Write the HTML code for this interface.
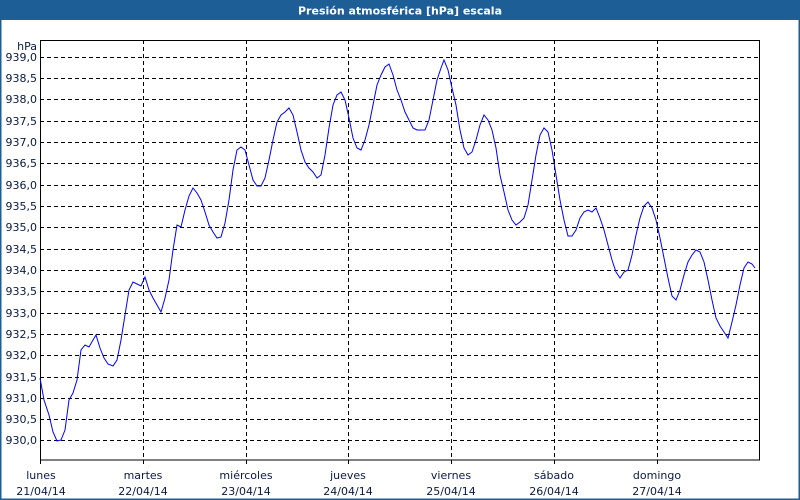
<!DOCTYPE html>
<html><head><meta charset="utf-8"><style>
html,body{margin:0;padding:0;background:#fff}
svg{display:block}
text{font-family:Tahoma,"DejaVu Sans","Liberation Sans",sans-serif;font-size:11px;fill:#0a1a40}
</style></head><body>
<svg width="800" height="500" viewBox="0 0 800 500" xmlns="http://www.w3.org/2000/svg">
<rect x="0" y="0" width="800" height="500" fill="#fff"/>
<rect x="0.5" y="0.5" width="799" height="499" fill="none" stroke="#1e5e96" stroke-width="2"/>
<rect x="0" y="0" width="800" height="20" fill="#1e5e96"/>
<text x="400" y="14.5" text-anchor="middle" style="font-weight:bold;fill:#fff;font-size:11px">Presión atmosférica [hPa] escala</text>
<g stroke="#000" stroke-width="1" stroke-dasharray="4,3" shape-rendering="crispEdges">
<line x1="40" x2="760" y1="57.5" y2="57.5"/><line x1="40" x2="760" y1="78.5" y2="78.5"/><line x1="40" x2="760" y1="99.5" y2="99.5"/><line x1="40" x2="760" y1="121.5" y2="121.5"/><line x1="40" x2="760" y1="142.5" y2="142.5"/><line x1="40" x2="760" y1="163.5" y2="163.5"/><line x1="40" x2="760" y1="185.5" y2="185.5"/><line x1="40" x2="760" y1="206.5" y2="206.5"/><line x1="40" x2="760" y1="227.5" y2="227.5"/><line x1="40" x2="760" y1="249.5" y2="249.5"/><line x1="40" x2="760" y1="270.5" y2="270.5"/><line x1="40" x2="760" y1="291.5" y2="291.5"/><line x1="40" x2="760" y1="313.5" y2="313.5"/><line x1="40" x2="760" y1="334.5" y2="334.5"/><line x1="40" x2="760" y1="355.5" y2="355.5"/><line x1="40" x2="760" y1="377.5" y2="377.5"/><line x1="40" x2="760" y1="398.5" y2="398.5"/><line x1="40" x2="760" y1="419.5" y2="419.5"/><line x1="40" x2="760" y1="440.5" y2="440.5"/>
<line x1="143.5" x2="143.5" y1="40" y2="464"/><line x1="246.5" x2="246.5" y1="40" y2="464"/><line x1="348.5" x2="348.5" y1="40" y2="464"/><line x1="451.5" x2="451.5" y1="40" y2="464"/><line x1="554.5" x2="554.5" y1="40" y2="464"/><line x1="657.5" x2="657.5" y1="40" y2="464"/>
</g>
<rect x="40.5" y="40.5" width="719" height="419.5" fill="none" stroke="#000" stroke-width="1" shape-rendering="crispEdges"/>
<line x1="40.5" x2="40.5" y1="460" y2="464" stroke="#000" shape-rendering="crispEdges"/>
<g text-anchor="end">
<text x="37" y="50">hPa</text>
<text x="37" y="61">939,0</text><text x="37" y="82">938,5</text><text x="37" y="103">938,0</text><text x="37" y="125">937,5</text><text x="37" y="146">937,0</text><text x="37" y="167">936,5</text><text x="37" y="189">936,0</text><text x="37" y="210">935,5</text><text x="37" y="231">935,0</text><text x="37" y="253">934,5</text><text x="37" y="274">934,0</text><text x="37" y="295">933,5</text><text x="37" y="317">933,0</text><text x="37" y="338">932,5</text><text x="37" y="359">932,0</text><text x="37" y="381">931,5</text><text x="37" y="402">931,0</text><text x="37" y="423">930,5</text><text x="37" y="444">930,0</text>
</g>
<g text-anchor="middle">
<text x="41" y="479">lunes</text><text x="41" y="495">21/04/14</text>
<text x="143" y="479">martes</text><text x="143" y="495">22/04/14</text>
<text x="246" y="479">miércoles</text><text x="246" y="495">23/04/14</text>
<text x="348" y="479">jueves</text><text x="348" y="495">24/04/14</text>
<text x="451" y="479">viernes</text><text x="451" y="495">25/04/14</text>
<text x="554" y="479">sábado</text><text x="554" y="495">26/04/14</text>
<text x="657" y="479">domingo</text><text x="657" y="495">27/04/14</text>
</g>
<polyline fill="none" stroke="#0000ff" stroke-width="1" points="40,378 44,400 49,415 53,432 57,441 61,440 65,430 69,400 73,393 77,380 81,350 85,345 89,347 93,340 96,335 100,348 104,358 108,364 113,366 117,360 121,340 125,315 129,290 133,282 137,284 141,286 145,277 149,290 153,298 157,305 161,312 165,298 169,280 173,250 177,225 181,227 185,210 189,196 193,188 197,193 201,200 205,212 209,225 213,232 217,238 221,237 225,223 229,200 233,170 237,150 241,147 245,150 249,165 253,180 257,186 261,186 265,178 269,160 273,140 277,122 281,115 285,112 289,108 293,115 297,132 301,150 305,162 309,168 313,172 317,178 321,175 325,155 329,128 333,105 337,95 341,92 345,100 349,118 353,138 357,148 361,150 365,140 369,125 373,105 377,85 381,75 385,67 389,64 393,75 397,90 401,100 405,112 409,120 413,128 417,130 421,130 425,130 429,120 433,100 437,80 441,68 444,60 448,70 452,88 456,105 460,130 464,148 468,155 472,152 476,140 480,125 484,115 488,120 492,130 496,148 500,175 504,192 508,210 512,220 516,225 520,222 524,218 528,205 532,180 536,155 540,135 544,128 548,132 552,150 556,175 560,200 564,220 568,236 572,236 576,230 580,218 584,212 588,210 592,212 596,208 600,218 604,230 608,245 612,260 616,272 620,278 624,272 628,270 632,255 636,235 640,218 644,206 648,202 652,208 656,220 660,238 664,258 668,278 672,296 676,300 680,290 684,275 688,262 692,255 696,250 700,252 704,262 708,280 712,300 716,318 720,326 724,332 728,338 732,322 736,305 740,285 744,268 748,262 752,264 755,268"/>
</svg>
</body></html>
